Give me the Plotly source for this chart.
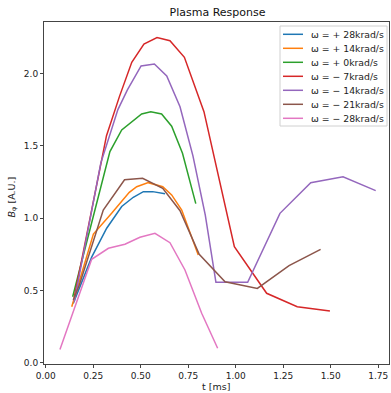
import plotly.graph_objects as go

labels = ["ω = + 28krad/s", "ω = + 14krad/s", "ω = + 0krad/s", "ω = − 7krad/s",
          "ω = − 14krad/s", "ω = − 21krad/s", "ω = − 28krad/s"]
colors = ["#1f77b4", "#ff7f0e", "#2ca02c", "#d62728", "#9467bd", "#8c564b", "#e377c2"]

t_p28 = [0.145, 0.242, 0.321, 0.400, 0.461, 0.514, 0.563, 0.628]
b_p28 = [0.41, 0.73, 0.93, 1.08, 1.144, 1.183, 1.183, 1.169]

t_p14 = [0.137, 0.251, 0.347, 0.440, 0.479, 0.540, 0.616, 0.663, 0.716, 0.803]
b_p14 = [0.387, 0.89, 1.033, 1.178, 1.217, 1.245, 1.217, 1.16, 1.056, 0.745]

t_p0 = [0.142, 0.338, 0.400, 0.452, 0.505, 0.553, 0.610, 0.663, 0.720, 0.790]
b_p0 = [0.456, 1.46, 1.61, 1.667, 1.72, 1.736, 1.72, 1.635, 1.448, 1.10]

t_m7 = [0.150, 0.320, 0.388, 0.453, 0.517, 0.586, 0.654, 0.730, 0.833, 0.993, 1.163, 1.324, 1.496]
b_m7 = [0.45, 1.57, 1.84, 2.077, 2.204, 2.248, 2.227, 2.112, 1.736, 0.802, 0.48, 0.387, 0.357]

t_m14 = [0.150, 0.290, 0.380, 0.430, 0.502, 0.572, 0.637, 0.707, 0.775, 0.840, 0.896,
         1.063, 1.233, 1.395, 1.565, 1.737]
b_m14 = [0.42, 1.38, 1.75, 1.887, 2.052, 2.066, 1.983, 1.77, 1.43, 1.02, 0.556,
         0.556, 1.033, 1.245, 1.286, 1.19]

t_m21 = [0.145, 0.177, 0.303, 0.415, 0.510, 0.616, 0.707, 0.808, 0.944, 1.114, 1.281, 1.447]
b_m21 = [0.434, 0.537, 1.056, 1.265, 1.275, 1.206, 1.051, 0.75, 0.56, 0.514, 0.671, 0.784]

t_m28 = [0.075, 0.158, 0.242, 0.330, 0.417, 0.496, 0.575, 0.654, 0.733, 0.821, 0.905]
b_m28 = [0.092, 0.40, 0.715, 0.791, 0.819, 0.867, 0.895, 0.83, 0.641, 0.342, 0.10]

series_t = [t_p28, t_p14, t_p0, t_m7, t_m14, t_m21, t_m28]
series_b = [b_p28, b_p14, b_p0, b_m7, b_m14, b_m21, b_m28]

x_ticks = [0.0, 0.25, 0.5, 0.75, 1.0, 1.25, 1.5, 1.75]
x_tick_text = ["0.00", "0.25", "0.50", "0.75", "1.00", "1.25", "1.50", "1.75"]
y_ticks = [0.0, 0.5, 1.0, 1.5, 2.0]
y_tick_text = ["0.0", "0.5", "1.0", "1.5", "2.0"]

W, H = 391, 393
L, R, T, B = 44, 2, 22, 29
pw, ph = W - L - R, H - T - B


def px(x):
    return (x - L) / pw


def py(y):
    return (H - B - y) / ph


fig = go.Figure()
for t, b, lab, c in zip(series_t, series_b, labels, colors):
    fig.add_trace(go.Scatter(x=t, y=b, mode="lines", name=lab,
                             line=dict(color=c, width=1.5), showlegend=False))

font = "DejaVu Sans, sans-serif"
annotations = []
shapes = []

# legend box (matplotlib-style)
shapes.append(dict(type="rect", xref="paper", yref="paper",
                   x0=px(280), x1=px(387), y0=py(126), y1=py(26),
                   line=dict(color="#d0d0d0", width=1), fillcolor="white",
                   layer="above"))
for i, (lab, c) in enumerate(zip(labels, colors)):
    yc = 34.3 + 14.0 * i
    shapes.append(dict(type="line", xref="paper", yref="paper",
                       x0=px(283), x1=px(303), y0=py(yc), y1=py(yc),
                       line=dict(color=c, width=1.5), layer="above"))
    annotations.append(dict(text=lab, xref="paper", yref="paper",
                            x=px(309), y=py(yc), xanchor="left", yanchor="middle",
                            showarrow=False, font=dict(size=9.3, color="#222")))

# axis titles
annotations.append(dict(text="t [ms]", xref="paper", yref="paper",
                        x=px(216), y=py(386), xanchor="center", yanchor="middle",
                        showarrow=False, font=dict(size=9.5, color="#222")))
annotations.append(dict(text="<i>B</i><sub>φ</sub> [A.U.]", xref="paper", yref="paper",
                        x=px(11.5), y=py(197), xanchor="center", yanchor="middle",
                        textangle=-90, showarrow=False,
                        font=dict(size=9.5, color="#222")))

fig.update_layout(
    width=W, height=H,
    margin=dict(l=L, r=R, t=T, b=B),
    paper_bgcolor="white", plot_bgcolor="white",
    font=dict(family=font, size=9, color="#222"),
    title=dict(text="Plasma Response", x=217.5 / W, xanchor="center",
               y=1 - 12.5 / H, yanchor="middle", font=dict(size=11, color="#111")),
    showlegend=False,
    shapes=shapes,
    annotations=annotations,
    xaxis=dict(range=[-0.009, 1.807], tickvals=x_ticks, ticktext=x_tick_text,
               showgrid=False, zeroline=False, showline=True, mirror=True,
               linecolor="#444", linewidth=1, ticks="outside", ticklen=3,
               tickcolor="#444", automargin=False),
    yaxis=dict(range=[-0.009, 2.356], tickvals=y_ticks, ticktext=y_tick_text,
               showgrid=False, zeroline=False, showline=True, mirror=True,
               linecolor="#444", linewidth=1, ticks="outside", ticklen=3,
               tickcolor="#444", automargin=False),
)

fig.write_html("out.html", config={"displayModeBar": False},
               post_script="document.body.style.margin='0';document.body.style.overflow='hidden';")
